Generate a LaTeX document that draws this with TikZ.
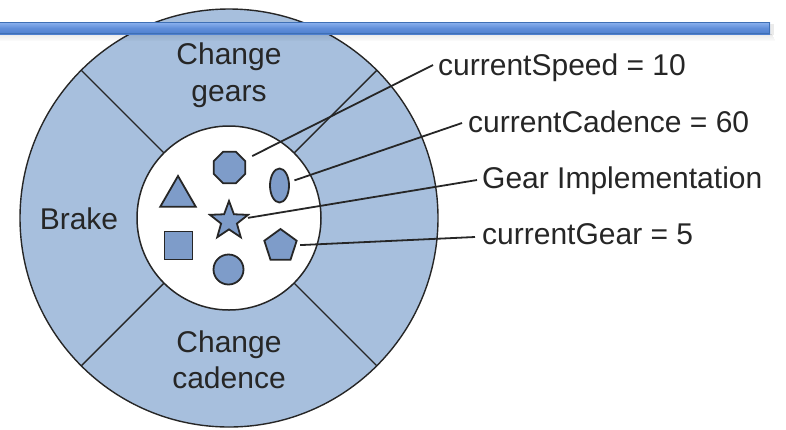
\documentclass[tikz,border=0pt]{standalone}
\usepackage{fontspec}
\setmainfont{Liberation Sans}
\usetikzlibrary{shapes.geometric,calc}
\definecolor{ringfill}{HTML}{A7BFDD}
\definecolor{shapefill}{HTML}{7E9CC9}
\definecolor{ink}{HTML}{262626}
\definecolor{barborder}{HTML}{3F70B5}
\definecolor{bartop}{HTML}{8DB3F0}
\definecolor{barbot}{HTML}{4E7FCF}
\begin{document}
\begin{tikzpicture}[x=1pt,y=-1pt,
  shapebox/.style={draw=ink, fill=shapefill, line width=1.8pt, inner sep=0pt},
  conn/.style={draw=ink, line width=1.8pt},
  lbl/.style={anchor=base west, inner sep=0pt, text=ink, font=\fontsize{30}{36}\selectfont},
  ctxt/.style={anchor=base, inner sep=0pt, text=ink, font=\fontsize{30}{36}\selectfont}]
\useasboundingbox (0,0) rectangle (786,429);
\coordinate (c) at (229,218);
% outer ring
\filldraw[fill=ringfill, draw=ink, line width=1.4pt] (c) circle[radius=209];
\foreach \a in {45,135,225,315}
  \draw[ink, line width=1.4pt] ($(c)+(\a:92)$) -- ($(c)+(\a:209)$);
% inner circle
\filldraw[fill=white, draw=ink, line width=1.5pt] (c) circle[radius=92];
% shapes
\node[shapebox, regular polygon, regular polygon sides=8, minimum size=34] (oct) at (229.5,167.5) {};
\node[shapebox, ellipse, minimum width=19, minimum height=34] (ell) at (279.5,185.5) {};
\node[shapebox, regular polygon, regular polygon sides=3, minimum size=41] (tri) at (178,196.5) {};
\node[shapebox, star, star points=5, star point ratio=2.4, minimum size=40] (star) at (229,221) {};
\node[shapebox, rectangle, minimum size=28] (sq) at (178.5,245.5) {};
\node[shapebox, regular polygon, regular polygon sides=5, minimum size=34] (pent) at (280.5,246) {};
\node[shapebox, circle, minimum size=30] (circ) at (228.5,269.5) {};
% ring texts
\node[ctxt] (cg1) at (229,64) {Change};
\node[ctxt] (cg2) at (229,101) {gears};
\node[ctxt] (br) at (79,229) {Brake};
\node[ctxt] (cc1) at (229,352) {Change};
\node[ctxt] (cc2) at (229,388) {cadence};
% labels
\node[lbl] (sp) at (438,75) {currentSpeed = 10};
\node[lbl] (cad) at (468,132) {currentCadence = 60};
\node[lbl] (gi) at (482,188) {Gear Implementation};
\node[lbl] (gr) at (482,244) {currentGear = 5};
% connectors
\draw[conn, shorten <=8pt] (oct) -- ([shift={(-5,-10)}]sp.base west);
\draw[conn, shorten <=5pt] (ell) -- ([shift={(-6,-9)}]cad.base west);
\draw[conn, shorten <=3pt] (star) -- ([shift={(-5,-8)}]gi.base west);
\draw[conn, shorten <=4pt] (pent) -- ([shift={(-7,-7)}]gr.base west);
% top bar with shadow
\foreach \i/\o in {0/0.10,1/0.08,2/0.06,3/0.05,4/0.04,5/0.03,6/0.02}
  \fill[black, opacity=\o] (0,34+\i) rectangle (772+\i*0.5,35+\i);
\fill[black, opacity=0.08] (770,24) rectangle (774,35);
\shade[top color=bartop, bottom color=barbot, middle color=barbot!70!bartop] (0,22) rectangle (770,34);
\draw[barborder, line width=1.2pt] (-1,22.6) rectangle (769.4,33.4);
\end{tikzpicture}
\end{document}
